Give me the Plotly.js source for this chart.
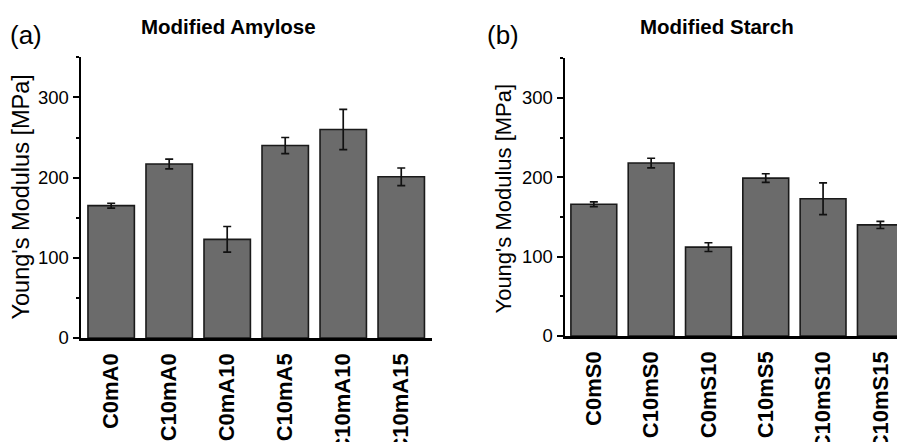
<!DOCTYPE html>
<html>
<head>
<meta charset="utf-8">
<script src="https://cdn.plot.ly/plotly-3.0.1.min.js"></script>
<style>html,body{margin:0;padding:0;background:#fff;}#chart{width:897px;height:442px;}</style>
</head>
<body>
<div id="chart"></div>
<script>
const catsA = ['C0mA0','C10mA0','C0mA10','C10mA5','C10mA10','C10mA15'];
const valsA = [165, 217, 123, 240, 260, 201];
const errA  = [3, 6, 16, 10, 25, 11];
const catsB = ['C0mS0','C10mS0','C0mS10','C10mS5','C10mS10','C10mS15'];
const valsB = [166, 218, 112, 199, 173, 140];
const errB  = [3, 6, 5.5, 5.5, 20, 4.5];
const yTicks = [0, 100, 200, 300];

const FONT = 'Liberation Sans, Arial, sans-serif';
function barTrace(x, y, e, xa, ya) {
  return {
    type: 'bar', x: x, y: y, xaxis: xa, yaxis: ya,
    marker: {color: '#6b6b6b', line: {color: '#1a1a1a', width: 1.6}},
    error_y: {type: 'data', array: e, visible: true, color: '#111', thickness: 1.7, width: 4},
    hoverinfo: 'none', showlegend: false
  };
}
const yBase = {
  range: [0, 350], tickvals: yTicks, ticks: 'outside', ticklen: 6, tickwidth: 2, tickcolor: '#000',
  showline: true, linewidth: 2.5, linecolor: '#000', showgrid: false, zeroline: false,
  tickfont: {family: FONT, size: 18.5, color: '#000'},
  minor: {tickvals: [50, 150, 250, 350], ticks: 'outside', ticklen: 3, tickwidth: 2, tickcolor: '#000'},
  fixedrange: true
};
const xBase = {
  type: 'category', showline: true, linewidth: 2.5, linecolor: '#000', showgrid: false, zeroline: false,
  ticks: '', tickangle: -90, tickfont: {family: FONT, size: 22, color: '#000', weight: 'bold'},
  ticklabelstandoff: 4, fixedrange: true
};
const layout = {
  width: 897, height: 442, margin: {l: 0, r: 0, t: 0, b: 0},
  paper_bgcolor: '#fff', plot_bgcolor: '#fff', bargap: 0.2,
  font: {family: FONT, color: '#000'},
  xaxis: Object.assign({}, xBase, {domain: [81/897, 432/897], range: [-0.52, 5.53], anchor: 'y'}),
  yaxis: Object.assign({}, yBase, {domain: [1-338/442, 1-57.3/442], anchor: 'x'}),
  xaxis2: Object.assign({}, xBase, {domain: [565/897, 1], range: [-0.503, 5.29], anchor: 'y2'}),
  yaxis2: Object.assign({}, yBase, {domain: [1-336/442, 1-58.3/442], anchor: 'x2'}),
  annotations: [
    {text: '<b>Modified Amylose</b>', x: 228/897, y: 1-26/442, xref: 'paper', yref: 'paper', xanchor: 'center', yanchor: 'middle', showarrow: false, font: {size: 20.5}},
    {text: '<b>Modified Starch</b>', x: 716.7/897, y: 1-26/442, xref: 'paper', yref: 'paper', xanchor: 'center', yanchor: 'middle', showarrow: false, font: {size: 20.5}},
    {text: '(a)', x: 8/897, y: 1-35/442, xref: 'paper', yref: 'paper', xanchor: 'left', yanchor: 'middle', showarrow: false, font: {size: 26}},
    {text: '(b)', x: 485/897, y: 1-35/442, xref: 'paper', yref: 'paper', xanchor: 'left', yanchor: 'middle', showarrow: false, font: {size: 26}},
    {text: "Young's Modulus [MPa]", x: 21/897, y: 1-197.5/442, xref: 'paper', yref: 'paper', xanchor: 'center', yanchor: 'middle', textangle: -90, showarrow: false, font: {size: 23.5}},
    {text: "Young's Modulus [MPa]", x: 503/897, y: 1-198.5/442, xref: 'paper', yref: 'paper', xanchor: 'center', yanchor: 'middle', textangle: -90, showarrow: false, font: {size: 22}}
  ]
};
Plotly.newPlot('chart', [barTrace(catsA, valsA, errA, 'x', 'y'), barTrace(catsB, valsB, errB, 'x2', 'y2')], layout, {displayModeBar: false, staticPlot: true});
</script>
</body>
</html>
